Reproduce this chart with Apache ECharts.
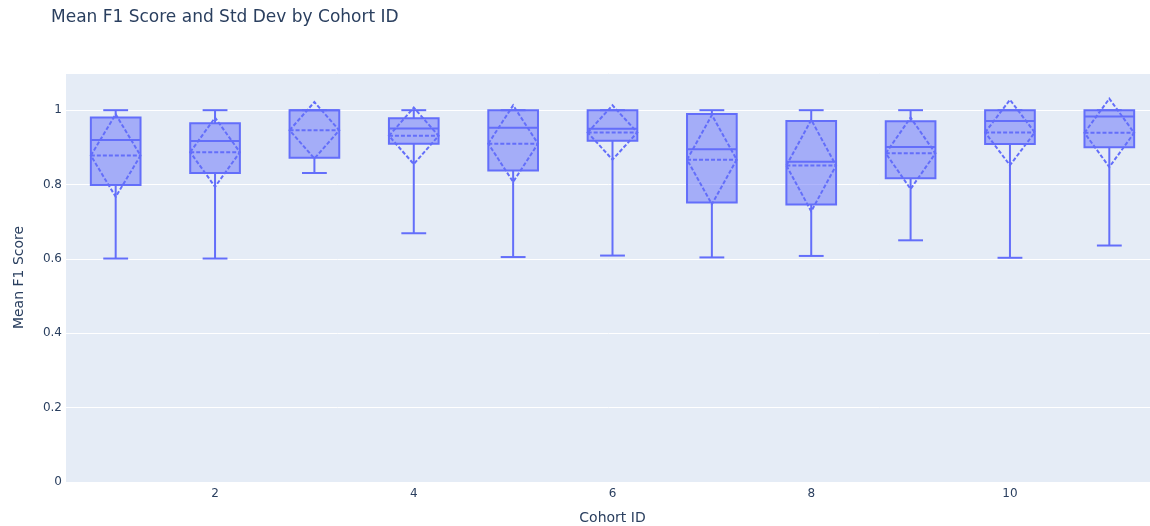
<!DOCTYPE html>
<html>
<head>
<meta charset="utf-8">
<title>Mean F1 Score and Std Dev by Cohort ID</title>
<script src="https://cdn.jsdelivr.net/npm/echarts@6/dist/echarts.min.js"></script>
<style>
  html, body { margin: 0; padding: 0; background: #ffffff; }
  #chart { width: 1150px; height: 526px; }
</style>
</head>
<body>
<div id="chart"></div>
<script>
// Per-cohort summary statistics of the F1 score
const cohortIds     = [1, 2, 3, 4, 5, 6, 7, 8, 9, 10, 11];
const lowerWhiskers = [0.601, 0.601, 0.831, 0.669, 0.605, 0.609, 0.604, 0.608, 0.650, 0.603, 0.636];
const q1Values      = [0.799, 0.831, 0.872, 0.910, 0.838, 0.918, 0.752, 0.746, 0.817, 0.909, 0.900];
const medians       = [0.920, 0.917, 1.000, 0.951, 0.953, 0.950, 0.895, 0.861, 0.901, 0.971, 0.983];
const q3Values      = [0.980, 0.965, 1.000, 0.978, 1.000, 1.000, 0.990, 0.971, 0.970, 1.000, 1.000];
const upperWhiskers = [1.000, 1.000, 1.000, 1.000, 1.000, 1.000, 1.000, 1.000, 1.000, 1.000, 1.000];
const means         = [0.878, 0.887, 0.946, 0.931, 0.910, 0.940, 0.867, 0.851, 0.884, 0.940, 0.939];
const stdDevs       = [0.111, 0.093, 0.076, 0.076, 0.103, 0.073, 0.120, 0.123, 0.096, 0.088, 0.092];

const xTickValues = [2, 4, 6, 8, 10];
const yTickValues = [0, 0.2, 0.4, 0.6, 0.8, 1];

const LINE_COLOR = '#636efa';
const FILL_COLOR = 'rgba(99,110,250,0.5)';
const BOX_WIDTH = 0.5;      // in x-axis units
const WHISKER_RATIO = 0.5;  // cap width relative to box width
const TEXT_COLOR = '#2a3f5f';
const FONT = '"DejaVu Sans", Verdana, Arial, sans-serif';

const rows = cohortIds.map((id, i) => [
  id, lowerWhiskers[i], q1Values[i], medians[i], q3Values[i],
  upperWhiskers[i], means[i], stdDevs[i]
]);

function renderBox(params, api) {
  const x = api.value(0);
  const lw = api.value(1), q1 = api.value(2), med = api.value(3);
  const q3 = api.value(4), uw = api.value(5);
  const mean = api.value(6), sd = api.value(7);
  const half = api.size([BOX_WIDTH, 0])[0] / 2;
  const capHalf = half * WHISKER_RATIO;
  const cx = api.coord([x, 0])[0];
  const py = v => api.coord([x, v])[1];

  const solid = { stroke: LINE_COLOR, lineWidth: 2, fill: null };
  const dashed = { stroke: LINE_COLOR, lineWidth: 2, lineDash: [4, 2], fill: null };
  const seg = (x1, y1, x2, y2, style) => ({
    type: 'line', shape: { x1, y1, x2, y2 }, style
  });

  return {
    type: 'group',
    children: [
      {
        type: 'rect',
        shape: { x: cx - half, y: py(q3), width: 2 * half, height: py(q1) - py(q3) },
        style: { fill: FILL_COLOR, stroke: LINE_COLOR, lineWidth: 2 }
      },
      seg(cx - half, py(med), cx + half, py(med), solid),
      seg(cx, py(q1), cx, py(lw), solid),
      seg(cx, py(q3), cx, py(uw), solid),
      seg(cx - capHalf, py(lw), cx + capHalf, py(lw), solid),
      seg(cx - capHalf, py(uw), cx + capHalf, py(uw), solid),
      seg(cx - half, py(mean), cx + half, py(mean), dashed),
      {
        type: 'polygon',
        shape: {
          points: [
            [cx - half, py(mean)],
            [cx, py(mean + sd)],
            [cx + half, py(mean)],
            [cx, py(mean - sd)]
          ]
        },
        style: dashed
      }
    ]
  };
}

const chart = echarts.init(document.getElementById('chart'), null, { renderer: 'canvas' });

chart.setOption({
  animation: false,
  backgroundColor: '#ffffff',
  title: {
    text: 'Mean F1 Score and Std Dev by Cohort ID',
    left: 51,
    top: 9,
    padding: 0,
    textStyle: { fontFamily: FONT, fontSize: 17, fontWeight: 'normal', color: TEXT_COLOR }
  },
  grid: {
    left: 66,
    right: -9,
    top: 73,
    bottom: 44,
    containLabel: false,
    outerBoundsMode: 'none',
    show: true,
    backgroundColor: '#E5ECF6',
    borderWidth: 0
  },
  xAxis: {
    type: 'value',
    min: 0.5,
    max: 11.5,
    name: 'Cohort ID',
    nameLocation: 'middle',
    nameGap: 29,
    nameTextStyle: { fontFamily: FONT, fontSize: 14, color: TEXT_COLOR },
    axisLine: { show: false },
    axisTick: { show: false, customValues: xTickValues },
    splitLine: { show: false },
    axisLabel: {
      customValues: xTickValues,
      margin: 6,
      fontFamily: FONT,
      fontSize: 12,
      color: TEXT_COLOR
    }
  },
  yAxis: {
    type: 'value',
    min: 0,
    max: 1.1,
    interval: 0.2,
    name: 'Mean F1 Score',
    nameLocation: 'middle',
    nameGap: 40,
    nameRotate: 90,
    nameTextStyle: { fontFamily: FONT, fontSize: 14, color: TEXT_COLOR },
    axisLine: { show: false },
    axisTick: { show: false },
    splitLine: { show: true, lineStyle: { color: '#ffffff', width: 1 } },
    axisLabel: {
      customValues: yTickValues,
      margin: 4,
      fontFamily: FONT,
      fontSize: 12,
      color: TEXT_COLOR,
      formatter: v => String(+v.toFixed(1))
    }
  },
  series: [{
    type: 'custom',
    name: 'Mean F1 Score',
    data: rows,
    encode: { x: 0, y: [1, 2, 3, 4, 5] },
    renderItem: renderBox,
    clip: true,
    z: 3
  }]
});
</script>
</body>
</html>
